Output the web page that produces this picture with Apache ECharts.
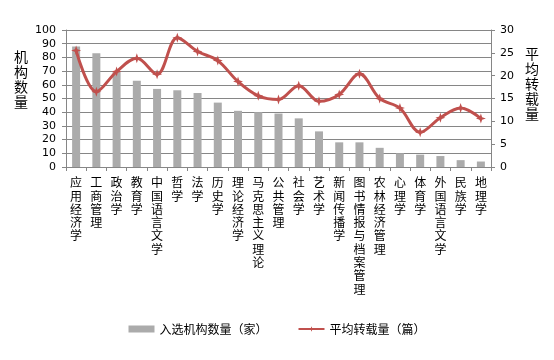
<!DOCTYPE html>
<html><head><meta charset="utf-8">
<script src="https://cdn.jsdelivr.net/npm/echarts@6/dist/echarts.min.js"></script>
<style>html,body{margin:0;padding:0;background:#fff}#c{width:554px;height:360px}</style>
</head><body><div id="c"></div>
<script>
var categories = ['应用经济学','工商管理','政治学','教育学','中国语言文学','哲学','法学','历史学','理论经济学','马克思主义理论','公共管理','社会学','艺术学','新闻传播学','图书情报与档案管理','农林经济管理','心理学','体育学','外国语言文学','民族学','地理学'];
var institutions = [88, 83, 70, 63, 57, 56, 54, 47, 41, 40, 39, 35.5, 26, 18, 18, 14, 10, 9, 8, 5, 4];
var avgReprints = [25.5, 16.5, 20.9, 23.8, 20.3, 28.3, 25.3, 23.3, 18.7, 15.6, 14.8, 17.8, 14.4, 15.9, 20.4, 15.0, 12.9, 7.6, 10.8, 12.9, 10.6];
var leftTicks = {min: 0, max: 100, interval: 10};
var rightTicks = {min: 0, max: 30, interval: 5};
var seriesNames = ['入选机构数量（家）', '平均转载量（篇）'];
var leftName = '机构数量';
var rightName = '平均转载量';

var chart = echarts.init(document.getElementById('c'));
var font = '"Noto Sans CJK SC","Noto Sans",sans-serif';
var axisCol = '#868686';
chart.setOption({
  animation: false,
  grid: {left: 66, right: 63, top: 30, bottom: 193},
  legend: {
    bottom: 20, left: 'center', itemGap: 30, itemWidth: 26, itemHeight: 7,
    textStyle: {fontFamily: font, fontSize: 12, color: '#000'},
    data: [{name: seriesNames[0], icon: 'rect'}, {name: seriesNames[1]}]
  },
  graphic: [
    {type: 'text', left: 14, top: 49, style: {text: leftName.split('').join('\n'), font: '14px ' + font, lineHeight: 15, fill: '#000'}},
    {type: 'text', left: 525, top: 46, style: {text: rightName.split('').join('\n'), font: '14px ' + font, lineHeight: 15, fill: '#000'}}
  ],
  xAxis: {
    type: 'category', data: categories,
    axisLine: {lineStyle: {color: axisCol}},
    axisTick: {show: true, length: 4, lineStyle: {color: axisCol}},
    axisLabel: {interval: 0, margin: 9, color: '#000', fontFamily: font, fontSize: 12, lineHeight: 13.3, verticalAlign: 'top',
      formatter: function (v) { return v.split('').join('\n'); }}
  },
  yAxis: [
    {type: 'value', min: leftTicks.min, max: leftTicks.max, interval: leftTicks.interval,
     axisLine: {show: true, lineStyle: {color: axisCol}},
     axisTick: {show: true, length: 4, lineStyle: {color: axisCol}},
     axisLabel: {color: '#000', fontFamily: '"DejaVu Sans",sans-serif', fontSize: 11, margin: 10},
     splitLine: {lineStyle: {color: axisCol, width: 1}}},
    {type: 'value', min: rightTicks.min, max: rightTicks.max, interval: rightTicks.interval,
     axisLine: {show: true, lineStyle: {color: axisCol}},
     axisTick: {show: true, length: 4, lineStyle: {color: axisCol}},
     axisLabel: {color: '#000', fontFamily: '"DejaVu Sans",sans-serif', fontSize: 11, margin: 9},
     splitLine: {show: false}}
  ],
  series: [
    {name: seriesNames[0], type: 'bar', data: institutions, barWidth: 8, itemStyle: {color: '#ABABAB'}, yAxisIndex: 0},
    {name: seriesNames[1], type: 'line', data: avgReprints, yAxisIndex: 1, smooth: 0.35,
     lineStyle: {color: '#C0504D', width: 3}, itemStyle: {color: '#C0504D'},
     symbol: 'path://M0,-6L1.5,-1.5L6,0L1.5,1.5L0,6L-1.5,1.5L-6,0L-1.5,-1.5Z', symbolSize: 10}
  ]
});
</script></body></html>
